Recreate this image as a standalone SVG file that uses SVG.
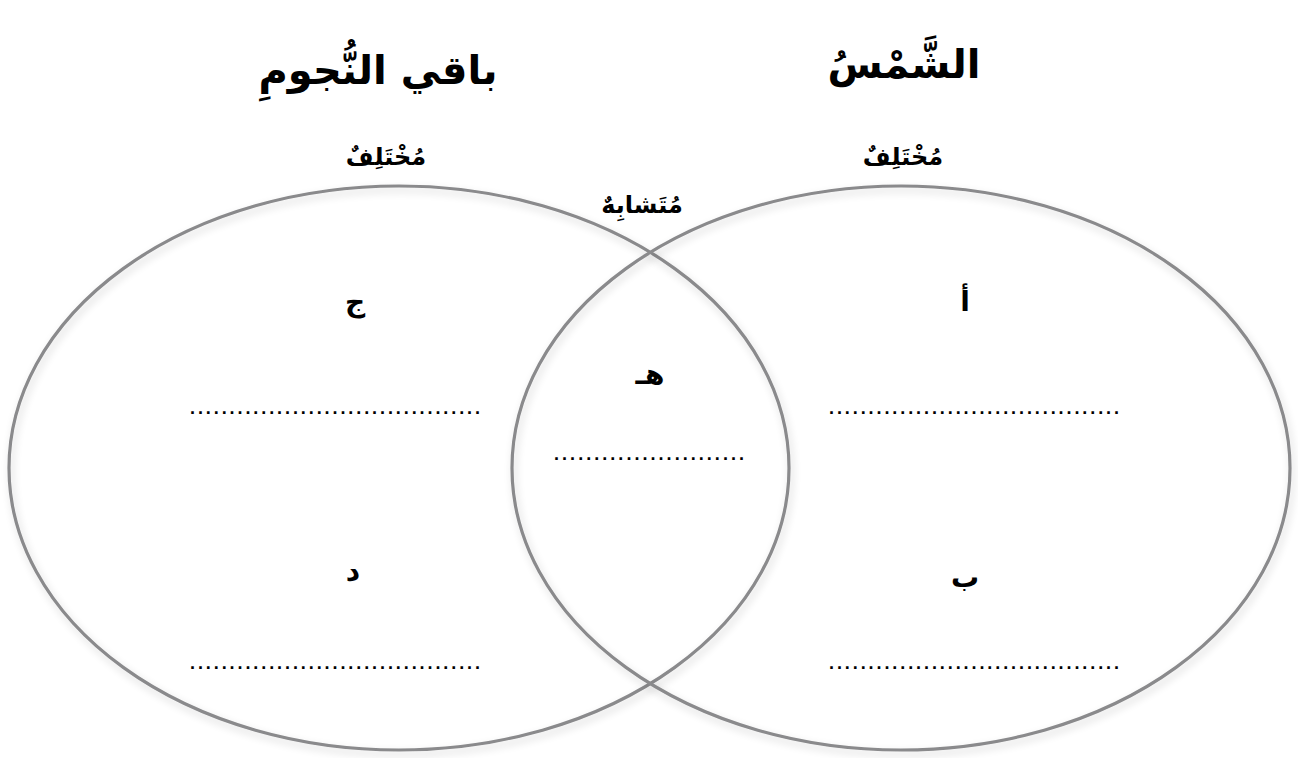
<svg xmlns="http://www.w3.org/2000/svg" width="1298" height="758" viewBox="0 0 1298 758">
<style>
.circ{fill:none;stroke:#8a8a8c;stroke-width:3.2}
.title{font-family:"DejaVu Sans","Noto Sans",sans-serif;font-weight:bold;font-size:40px;fill:#000;text-anchor:middle}
.lbl{font-family:"DejaVu Sans","Noto Sans",sans-serif;font-weight:bold;font-size:24px;fill:#000;text-anchor:middle}
.let{font-family:"DejaVu Sans","Noto Sans",sans-serif;font-weight:bold;font-size:28px;fill:#000;text-anchor:middle}
.dots{font-family:"Liberation Sans",sans-serif;font-weight:bold;font-size:18px;fill:#000}
</style>
<defs>
<filter id="sh" x="-10%" y="-10%" width="120%" height="120%">
<feGaussianBlur in="SourceAlpha" stdDeviation="4"/>
<feOffset dx="2" dy="4" result="b"/>
<feComponentTransfer><feFuncA type="linear" slope="0.18"/></feComponentTransfer>
<feMerge><feMergeNode/><feMergeNode in="SourceGraphic"/></feMerge>
</filter>
</defs>
<rect width="1298" height="758" fill="#fff"/>
<g id="circle-stars" filter="url(#sh)">
<ellipse class="circ" cx="399" cy="468" rx="390" ry="282"/>
</g>
<g id="circle-sun" filter="url(#sh)">
<ellipse class="circ" cx="901" cy="468" rx="389" ry="282"/>
</g>
<g id="titles">
<text class="title" x="378" y="84" direction="rtl">باقي النُّجومِ</text>
<text class="title" x="904" y="78" direction="rtl">الشَّمْسُ</text>
</g>
<g id="headers">
<text class="lbl" x="386" y="165" direction="rtl">مُخْتَلِفٌ</text>
<text class="lbl" x="903" y="165" direction="rtl">مُخْتَلِفٌ</text>
<text class="lbl" x="642" y="213" direction="rtl">مُتَشابِهٌ</text>
</g>
<g id="node-a">
<text class="let" x="965" y="311">أ</text>
<text class="dots" x="829" y="414" textLength="290" lengthAdjust="spacing">.....................................</text>
</g>
<g id="node-b">
<text class="let" x="965" y="587">ب</text>
<text class="dots" x="829" y="669" textLength="290" lengthAdjust="spacing">.....................................</text>
</g>
<g id="node-j">
<text class="let" x="355" y="311">ج</text>
<text class="dots" x="190" y="414" textLength="290" lengthAdjust="spacing">.....................................</text>
</g>
<g id="node-d">
<text class="let" x="353" y="581">د</text>
<text class="dots" x="190" y="669" textLength="290" lengthAdjust="spacing">.....................................</text>
</g>
<g id="node-h">
<text class="let" x="650" y="384">هـ</text>
<text class="dots" x="554" y="460" textLength="190" lengthAdjust="spacing">........................</text>
</g>
<g id="connectors"></g>
</svg>
